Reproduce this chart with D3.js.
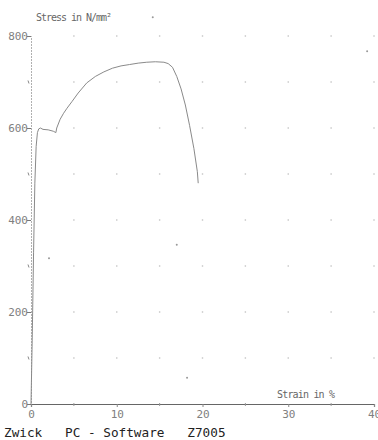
<!DOCTYPE html>
<html>
<head>
<meta charset="utf-8">
<script src="https://cdn.jsdelivr.net/npm/d3@7"></script>
<style>
  body { margin: 0; background: #fff; }
  text { font-family: "DejaVu Sans Mono", monospace; }
</style>
</head>
<body>
<div id="chart"></div>
<script>
// curve: strain in %, stress in N/mm2
const strain = [0, 0.15, 0.3, 0.45, 0.6, 0.75, 0.9, 1.1, 1.4, 2.0, 2.6, 2.9, 3.0, 3.4, 3.8, 4.2, 4.8, 5.5, 6.5, 7.5, 8.5, 9.5, 10.5, 11.5, 12.5, 13.5, 14.5, 15.5, 16.0, 16.5, 17.0, 17.5, 18.0, 18.5, 19.0, 19.4, 19.5];
const stress = [0, 150, 330, 480, 560, 590, 598, 600, 597, 596, 593, 590, 600, 619, 632, 643, 658, 676, 698, 712, 722, 730, 735, 738, 741, 743, 744, 743, 740, 732, 712, 685, 650, 605, 555, 505, 480];

const xTicks = [0, 10, 20, 30, 40];
const yTicks = [0, 200, 400, 600, 800];
const gridX = [5, 10, 15, 20, 25, 30, 35, 40];
const gridY = [100, 200, 300, 400, 500, 600, 700, 800];

// stray specks on the scanned sheet
const speckStrain = [14.2, 39.2, 17.0, 18.2, 2.1];
const speckStress = [841, 767, 346, 57, 317];

const width = 378, height = 440;

const svg = d3.select("#chart")
  .append("svg")
  .attr("width", width)
  .attr("height", height);

const x = d3.scaleLinear().domain([0, 40]).range([31, 374]);
const y = d3.scaleLinear().domain([0, 800]).range([404, 36]);

// grid dots
const dots = [];
gridX.forEach(gx => gridY.forEach(gy => dots.push([gx, gy])));
svg.append("g")
  .selectAll("rect")
  .data(dots)
  .enter()
  .append("rect")
  .attr("x", d => x(d[0]) - 0.7)
  .attr("y", d => y(d[1]) - 0.7)
  .attr("width", 1.4)
  .attr("height", 1.4)
  .attr("fill", "#c4c4c4");

svg.append("g")
  .selectAll("circle")
  .data(speckStrain.map((s, i) => [s, speckStress[i]]))
  .enter()
  .append("circle")
  .attr("cx", d => x(d[0]))
  .attr("cy", d => y(d[1]))
  .attr("r", 1)
  .attr("fill", "#999");

// y axis: faint dotted line, dash ticks on the left
const yAxis = svg.append("g").attr("transform", `translate(${x(0)},0)`)
  .call(d3.axisLeft(y).tickValues(yTicks).tickSize(4).tickFormat(d3.format("d")));
yAxis.select(".domain").attr("stroke", "#b0b0b0").attr("stroke-dasharray", "2,1");
yAxis.selectAll(".tick line").attr("stroke", "#777");
yAxis.selectAll(".tick text")
  .attr("fill", "#808080")
  .attr("font-size", 11)
  .attr("font-family", "DejaVu Sans Mono")
  .attr("x", -3);

// minor y ticks
svg.append("g")
  .selectAll("line")
  .data([100, 300, 500, 700])
  .enter()
  .append("line")
  .attr("x1", x(0) - 3)
  .attr("x2", x(0) - 2)
  .attr("y1", d => y(d) - 1.5)
  .attr("y2", d => y(d) + 1.5)
  .attr("stroke", "#888");

// x axis
const xAxis = svg.append("g").attr("transform", `translate(0,${y(0)})`)
  .call(d3.axisBottom(x).tickValues(xTicks).tickSize(3).tickFormat(d3.format("d")));
xAxis.select(".domain").attr("stroke", "#666").attr("stroke-width", 1.2);
xAxis.selectAll(".tick line").attr("stroke", "#888");
xAxis.selectAll(".tick text")
  .attr("fill", "#808080")
  .attr("font-size", 11)
  .attr("font-family", "DejaVu Sans Mono")
  .attr("y", 6);

// minor x ticks
svg.append("g")
  .selectAll("line")
  .data([5, 15, 25, 35])
  .enter()
  .append("line")
  .attr("x1", d => x(d))
  .attr("x2", d => x(d))
  .attr("y1", y(0) - 1)
  .attr("y2", y(0) + 2)
  .attr("stroke", "#999");

// curve
const line = d3.line()
  .x((d, i) => x(strain[i]))
  .y((d, i) => y(stress[i]));

svg.append("path")
  .datum(stress)
  .attr("d", line)
  .attr("fill", "none")
  .attr("stroke", "#8a8a8a")
  .attr("stroke-width", 1);

// axis titles
svg.append("text")
  .attr("x", 36)
  .attr("y", 21)
  .attr("font-size", 10)
  .attr("fill", "#666")
  .attr("textLength", 76)
  .text("Stress in N/mm²");

svg.append("text")
  .attr("x", 277)
  .attr("y", 398)
  .attr("font-size", 10)
  .attr("fill", "#666")
  .attr("textLength", 58)
  .text("Strain in %");

// footer
svg.append("text")
  .attr("x", 4)
  .attr("y", 437)
  .attr("font-family", "Liberation Mono")
  .attr("font-size", 12.7)
  .attr("fill", "#222")
  .style("white-space", "pre")
  .text("Zwick   PC - Software   Z7005");
</script>
</body>
</html>
